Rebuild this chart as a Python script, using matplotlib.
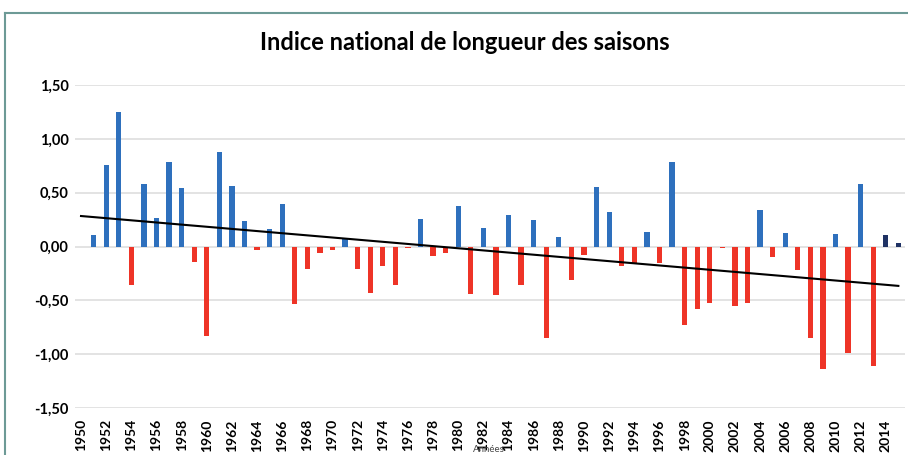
import numpy as np
import matplotlib
matplotlib.use("Agg")
import matplotlib.pyplot as plt
from matplotlib.lines import Line2D

# years and index values
years = list(range(1950, 2016))
values = [
    0.00, 0.11, 0.76, 1.25, -0.36, 0.58, 0.27, 0.79, 0.54, -0.14,
    -0.83, 0.88, 0.56, 0.24, -0.03, 0.16, 0.40, -0.53, -0.21, -0.06,
    -0.03, 0.07, -0.21, -0.43, -0.18, -0.36, -0.01, 0.26, -0.09, -0.06,
    0.38, -0.44, 0.17, -0.45, 0.29, -0.36, 0.25, -0.85, 0.09, -0.31,
    -0.08, 0.55, 0.32, -0.18, -0.15, 0.14, -0.15, 0.79, -0.73, -0.58,
    -0.52, -0.01, -0.55, -0.52, 0.34, -0.10, 0.13, -0.22, -0.85, -1.14,
    0.12, -0.99, 0.58, -1.11, 0.11, 0.03,
]
provisional = [2014, 2015]  # drawn in dark navy
yticks = [1.5, 1.0, 0.5, 0.0, -0.5, -1.0, -1.5]
ytick_labels = ["1,50", "1,00", "0,50", "0,00", "-0,50", "-1,00", "-1,50"]

plt.rcParams['font.family'] = ['Lato', 'DejaVu Sans']

fig = plt.figure(figsize=(9.08, 4.55), dpi=100)
ax = fig.add_axes([0.083, 0.103, 0.914, 0.71])

colors = []
for y, v in zip(years, values):
    if y in provisional:
        colors.append('#1f3264')
    elif v >= 0:
        colors.append('#2e70bd')
    else:
        colors.append('#ee3427')
ax.bar(years, values, width=0.42, color=colors, zorder=3)

# linear trend
coef = np.polyfit(years, values, 1)
xs = np.array([years[0], years[-1]])
ax.plot(xs, np.polyval(coef, xs), color='black', lw=1.5, zorder=4)

ax.set_xlim(1949.55, 2015.55)
ax.set_ylim(-1.5, 1.5)
ax.set_yticks(yticks)
ax.set_yticklabels(ytick_labels, fontweight='bold', fontsize=10.5)
ax.set_xticks(years[::2])
ax.set_xticklabels([str(y) for y in years[::2]], rotation=90, fontweight='bold', fontsize=10)
ax.tick_params(axis='y', length=0, pad=5)
ax.tick_params(axis='x', length=0, pad=8)
ax.grid(axis='y', color='#dedede', lw=1.2, zorder=0)
for s in ax.spines.values():
    s.set_visible(False)

fig.text(0.512, 1 - 43 / 455, "Indice national de longueur des saisons",
         ha='center', va='center', fontsize=17, fontweight='bold')
fig.text(489 / 908, 1 - 449 / 455, "Années", ha='center', va='center', fontsize=7, color='#444444')

# outer frame (top and left edges visible)
fig.add_artist(Line2D([5 / 908, 5 / 908], [0, 1 - 13 / 455], transform=fig.transFigure, color='#6d9a96', lw=1.5))
fig.add_artist(Line2D([5 / 908, 1], [1 - 13 / 455, 1 - 13 / 455], transform=fig.transFigure, color='#6d9a96', lw=1.5))

fig.savefig('out.png', dpi=100)
